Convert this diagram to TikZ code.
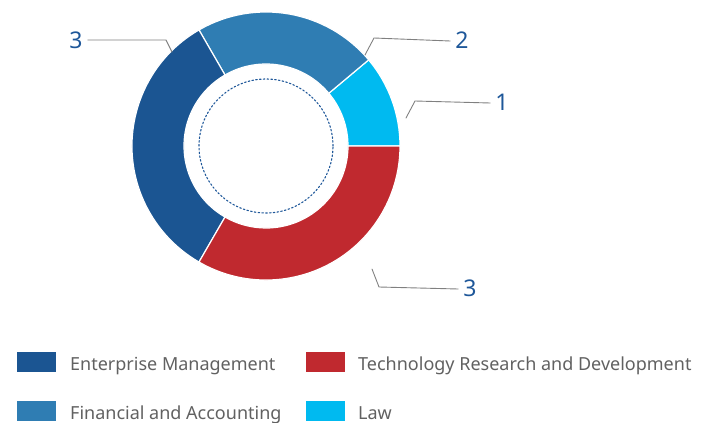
\documentclass[tikz,border=0pt]{standalone}
\usepackage{fontspec}
\setmainfont{Noto Sans}
\usepackage{tikz}
\usetikzlibrary{positioning}
\definecolor{entblue}{rgb}{0.106,0.333,0.573}
\definecolor{finblue}{rgb}{0.184,0.490,0.702}
\definecolor{lawcyan}{rgb}{0.0,0.729,0.941}
\definecolor{techred}{rgb}{0.753,0.161,0.184}
\definecolor{numblue}{rgb}{0.118,0.341,0.600}
\definecolor{leadgray}{rgb}{0.50,0.50,0.50}
\definecolor{txtgray}{rgb}{0.38,0.38,0.38}
\tikzset{
  num/.style={text=numblue,font=\fontsize{23}{23}\selectfont,inner sep=0pt},
  lead/.style={color=leadgray,line width=0.9pt},
  swatch/.style={minimum width=39pt,minimum height=20pt,inner sep=0pt},
  legtext/.style={text=txtgray,font=\fontsize{18}{18}\selectfont,inner sep=0pt,anchor=base west}
}
\begin{document}
\begin{tikzpicture}[line cap=round,line join=round,x=1pt,y=1pt]
      \useasboundingbox (0,0) rectangle (702,-423);
      \coordinate (c) at (266,-146);
      \foreach \a/\b/\col in {0/40/lawcyan,40/120/finblue,120/240/entblue,240/360/techred}
      \filldraw[shift={(c)},fill=\col,draw=white,line width=1.2pt] (\a:134) arc (\a:\b:134) -- (\b:82) arc (\b:\a:82) -- cycle;
      \draw[shift={(c)},color=numblue,line width=1.1pt,dash pattern=on 1.6pt off 2.2pt] (0,0) circle (67);
      \node[num] (n3a) at (76,-40) {3};
      \node[num] (n2) at (462,-40) {2};
      \node[num] (n1) at (502,-102) {1};
      \node[num] (n3b) at (470,-288) {3};
      \coordinate (e3a) at (172,-52);
      \coordinate (e2) at (365,-55);
      \coordinate (e1) at (406,-118);
      \coordinate (e3b) at (372,-269);
      \draw[lead] (n3a.east) ++(5,0) -- (166,-40) -- (e3a);
      \draw[lead] (n2.west) ++(-5,-1) -- (374,-38) -- (e2);
      \draw[lead] (n1.west) ++(-5,-1) -- (415,-101) -- (e1);
      \draw[lead] (n3b.west) ++(-5,-1) -- (379,-287) -- (e3b);
      \node[swatch,fill=entblue] (s1) at (36.5,-362) {};
      \node[legtext] (t1) at (70,-370) {Enterprise Management};
      \node[swatch,fill=techred] (s2) at (325.5,-362) {};
      \node[legtext] (t2) at (358,-370) {Technology Research and Development};
      \node[swatch,fill=finblue] (s3) at (36.5,-411) {};
      \node[legtext] (t3) at (70,-419) {Financial and Accounting};
      \node[swatch,fill=lawcyan] (s4) at (325.5,-411) {};
      \node[legtext] (t4) at (358,-419) {Law};
    \end{tikzpicture}
\end{document}
